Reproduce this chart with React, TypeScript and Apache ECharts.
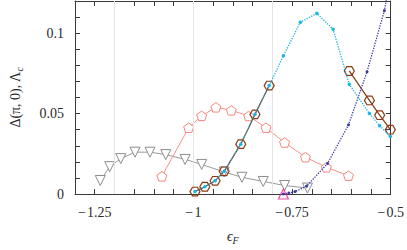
import React, { useEffect, useRef } from "react";
import * as echarts from "echarts";

// Data
const grayX = [-1.236, -1.212, -1.184, -1.148, -1.11, -1.07, -1.021, -0.979, -0.922, -0.877, -0.823, -0.769, -0.711];
const grayY = [0.0084, 0.017, 0.022, 0.026, 0.026, 0.0245, 0.0215, 0.0184, 0.0137, 0.0104, 0.0078, 0.0053, 0.0037];

const salmonX = [-1.08, -1.012, -0.979, -0.943, -0.904, -0.86, -0.816, -0.769, -0.716, -0.663, -0.607];
const salmonY = [0.011, 0.0412, 0.0486, 0.0539, 0.052, 0.0485, 0.0412, 0.032, 0.0229, 0.0166, 0.0114];

// null marks the break in the line
const brownX = [-0.996, -0.971, -0.945, -0.922, -0.88, -0.844, -0.808, -0.7, -0.605, -0.554, -0.528, -0.501];
const brownY: (number | null)[] = [0.0015, 0.0045, 0.0082, 0.0141, 0.031, 0.0495, 0.0674, null, 0.0765, 0.0582, 0.049, 0.04];

const cyanX = [-0.996, -0.971, -0.945, -0.922, -0.88, -0.844, -0.808, -0.772, -0.729, -0.687, -0.646, -0.605, -0.554, -0.528, -0.501];
const cyanY = [0.0015, 0.0045, 0.0082, 0.0141, 0.031, 0.0495, 0.0674, 0.0859, 0.1068, 0.1123, 0.1024, 0.0682, 0.05, 0.0425, 0.0357];

const blueX = [-0.772, -0.758, -0.742, -0.713, -0.66, -0.607, -0.56, -0.516, -0.48];
const blueY = [0, 0.0006, 0.0015, 0.0049, 0.019, 0.043, 0.076, 0.114, 0.165];

const magentaX = [-0.772];
const magentaY = [0];

const gridLinesX = [-1.2, -1.0, -0.8];

const X_MIN = -1.3;
const X_MAX = -0.5;
const X_STEP = 0.05;
const Y_MIN = 0;
const Y_MAX = 0.12;
const Y_STEP = 0.01;

const FONT = "'Liberation Serif', 'DejaVu Serif', serif";
const AXIS_COLOR = "#3a3a3a";
const TEXT_COLOR = "#2a2a2a";

const pentagon =
  "path://M0,-1 L0.951,-0.309 L0.588,0.809 L-0.588,0.809 L-0.951,-0.309 Z";
const hexagon =
  "path://M1,0 L0.5,0.866 L-0.5,0.866 L-1,0 L-0.5,-0.866 L0.5,-0.866 Z";

const zip = (xs: number[], ys: (number | null)[]) =>
  xs.map((x, i) => [x, ys[i] === null ? "-" : ys[i]]);

const xLabel = (v: number) => {
  const k = Math.round(v * 100);
  if (k % 25 !== 0) return "";
  const s = String(Math.abs(k) / 100);
  return k < 0 ? "\u2212\u200A" + s : s;
};
const yLabel = (v: number) => {
  const k = Math.round(v * 1000);
  if (k % 50 !== 0) return "";
  return String(k / 1000);
};

export default function App() {
  const ref = useRef<HTMLDivElement>(null);
  useEffect(() => {
    if (!ref.current) return;
    const chart = echarts.init(ref.current, undefined, { renderer: "svg" });
    const axisCommon = {
      type: "value" as const,
      axisLine: { show: true, onZero: false, lineStyle: { color: AXIS_COLOR, width: 1 } },
      axisTick: { show: true, inside: true, length: 5, lineStyle: { color: AXIS_COLOR, width: 1 } },
      splitLine: { show: false },
    };
    chart.setOption({
      animation: false,
      backgroundColor: "#ffffff",
      textStyle: { fontFamily: FONT },
      grid: { left: 63, right: 15, top: 1, bottom: 46 },
      xAxis: [
        {
          ...axisCommon,
          position: "bottom",
          min: X_MIN,
          max: X_MAX,
          interval: X_STEP,
          axisLabel: {
            show: true,
            formatter: xLabel,
            margin: 11,
            fontFamily: FONT,
            fontSize: 14,
            color: TEXT_COLOR,
            hideOverlap: false,
          },
          name: "{e|\u03F5}{s|F}",
          nameLocation: "middle",
          nameGap: 33,
          nameTextStyle: {
            fontFamily: FONT,
            rich: {
              e: { fontFamily: FONT, fontSize: 14, fontStyle: "italic", color: TEXT_COLOR },
              s: { fontFamily: FONT, fontSize: 10, fontStyle: "italic", color: TEXT_COLOR, padding: [8, 0, 0, 0] },
            },
          },
        },
        {
          ...axisCommon,
          position: "top",
          min: X_MIN,
          max: X_MAX,
          interval: X_STEP,
          axisLabel: { show: false },
        },
      ],
      yAxis: [
        {
          ...axisCommon,
          position: "left",
          min: Y_MIN,
          max: Y_MAX,
          interval: Y_STEP,
          axisLabel: {
            show: true,
            formatter: yLabel,
            margin: 11,
            fontFamily: FONT,
            fontSize: 14,
            color: TEXT_COLOR,
          },
          name: "\u0394(\u03C0, 0), \u039B{s|c}",
          nameLocation: "middle",
          nameGap: 51,
          nameTextStyle: {
            fontFamily: FONT,
            fontSize: 14,
            color: TEXT_COLOR,
            rich: {
              s: { fontFamily: FONT, fontSize: 10, fontStyle: "italic", color: TEXT_COLOR, padding: [8, 0, 0, 0] },
            },
          },
        },
        {
          ...axisCommon,
          position: "right",
          min: Y_MIN,
          max: Y_MAX,
          interval: Y_STEP,
          axisLabel: { show: false },
        },
      ],
      series: [
        {
          type: "line",
          data: [],
          z: 1,
          markLine: {
            silent: true,
            symbol: "none",
            label: { show: false },
            lineStyle: { color: "#e4e4e4", width: 1, type: "solid" },
            data: gridLinesX.map((x) => ({ xAxis: x })),
          },
        },
        {
          type: "line",
          data: zip(grayX, grayY),
          z: 3,
          symbol: "triangle",
          symbolRotate: 180,
          symbolSize: 10,
          symbolKeepAspect: true,
          lineStyle: { color: "#9a9a9a", width: 1 },
          itemStyle: { color: "#ffffff", borderColor: "#8c8c8c", borderWidth: 1 },
          emphasis: { disabled: true },
        },
        {
          type: "line",
          data: zip(salmonX, salmonY),
          z: 4,
          symbol: pentagon,
          symbolSize: 10,
          symbolKeepAspect: true,
          lineStyle: { color: "#f7928a", width: 1 },
          itemStyle: { color: "#ffffff", borderColor: "#f7867c", borderWidth: 1 },
          emphasis: { disabled: true },
        },
        {
          type: "line",
          data: zip(brownX, brownY),
          z: 5,
          connectNulls: false,
          symbol: hexagon,
          symbolSize: 10,
          symbolKeepAspect: true,
          lineStyle: { color: "#8a3a14", width: 1.2 },
          itemStyle: { color: "rgba(255,255,255,0)", borderColor: "#8a3a14", borderWidth: 1.2 },
          emphasis: { disabled: true },
        },
        {
          type: "line",
          data: zip(cyanX, cyanY),
          z: 6,
          symbol: "circle",
          symbolSize: 3.5,
          lineStyle: { color: "#1db4e6", width: 1.3, type: "dotted" },
          itemStyle: { color: "#1db4e6" },
          emphasis: { disabled: true },
        },
        {
          type: "line",
          data: zip(blueX, blueY),
          z: 6,
          symbol: "circle",
          symbolSize: 3,
          lineStyle: { color: "#3a3aa8", width: 1.3, type: "dotted" },
          itemStyle: { color: "#3a3aa8" },
          emphasis: { disabled: true },
        },
        {
          type: "scatter",
          data: zip(magentaX, magentaY),
          z: 7,
          symbol: "triangle",
          symbolSize: 10,
          symbolKeepAspect: true,
          itemStyle: { color: "rgba(255,255,255,0)", borderColor: "#e8208c", borderWidth: 1.2 },
          emphasis: { disabled: true },
        },
      ],
    });
    return () => chart.dispose();
  }, []);
  return <div ref={ref} style={{ width: 407, height: 250, position: "absolute", left: 0, top: 0 }} />;
}
